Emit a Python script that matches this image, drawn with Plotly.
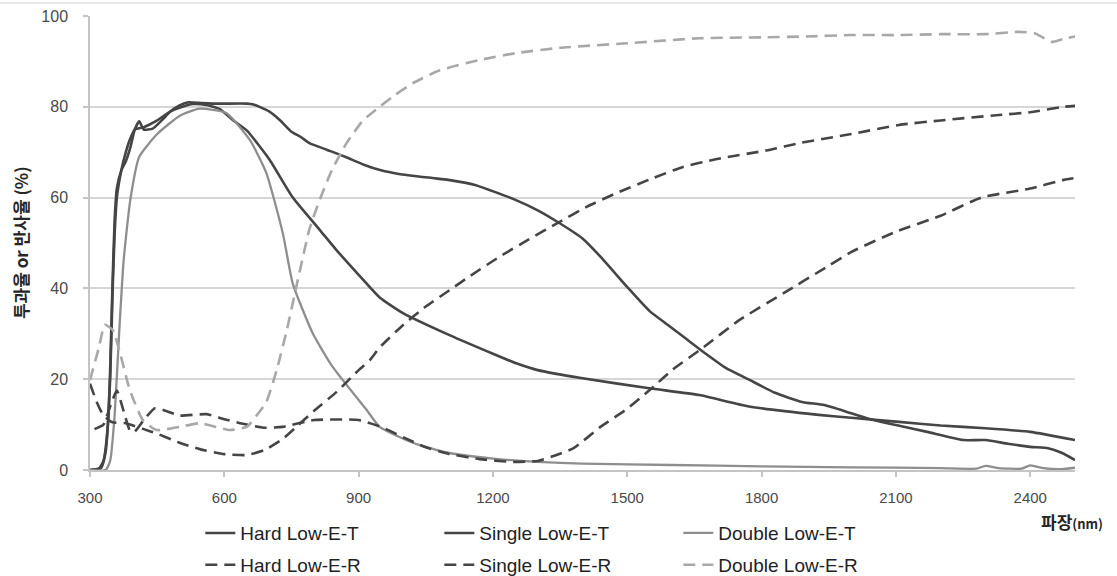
import plotly.graph_objects as go

# ---------------- data (wavelength nm, percent) ----------------
hard_t_x = [300, 320, 330, 340, 345, 350, 355, 360, 370, 380, 390, 400, 410, 420, 440, 460, 480, 500,
            520, 550, 575, 600, 650, 665, 700, 725, 750, 770, 790, 830, 870, 910, 950, 990, 1065, 1100,
            1160, 1250, 1300, 1350, 1400, 1440, 1500, 1550, 1590, 1630, 1670, 1720, 1770, 1830, 1890,
            1940, 2000, 2050, 2100, 2170, 2250, 2300, 2350, 2400, 2440, 2470, 2500]
hard_t_y = [0, 0.3, 2, 10, 22, 40, 55, 62, 66, 68, 71, 75, 76.8, 75, 75.2, 77, 79, 80.3,
            81, 80.8, 80.7, 80.7, 80.7, 80.5, 79, 77, 74.5, 73.4, 72, 70.5, 69, 67.3, 66, 65.2, 64.3, 63.9,
            62.8, 59.5, 57.2, 54.3, 51, 47, 40.3, 35, 32, 29, 26, 22.5, 20, 17, 15,
            14.3, 12.5, 11, 9.9, 8.4, 6.6, 6.6, 5.8, 5.1, 4.8, 3.8, 2.2]

single_t_x = [300, 325, 335, 345, 350, 355, 360, 370, 380, 390, 400, 420, 450, 480, 500, 530, 560, 590,
              620, 650, 700, 753, 813, 850, 900, 947, 1000, 1103, 1200, 1252, 1300, 1400, 1549, 1661,
              1772, 1922, 2000, 2107, 2200, 2300, 2400, 2500]
single_t_y = [0, 0.5, 4, 20, 38, 52, 60, 66, 70, 73, 75, 75.5, 77, 79, 79.8, 80.6, 80.4, 79.5,
              77, 74.8, 68.5, 60, 52.9, 48.5, 43, 38, 34.5, 29.7, 25.6, 23.5, 22, 20.2, 18, 16.5,
              14, 12.2, 11.5, 10.6, 9.8, 9.2, 8.4, 6.6]

double_t_x = [300, 335, 345, 355, 365, 375, 390, 410, 450, 500, 545, 605, 657, 694, 731, 753, 798, 842,
              918, 947, 1021, 1100, 1200, 1300, 1400, 1600, 1800, 2000, 2200, 2280, 2300, 2330, 2380,
              2400, 2430, 2470, 2500]
double_t_y = [0, 0, 2, 12, 30, 46, 59.5, 69, 74, 78, 79.6, 78.6, 72.7, 65.4, 52, 41, 30, 22.7,
              13.2, 9.5, 6.0, 3.8, 2.5, 1.8, 1.4, 1.1, 0.8, 0.6, 0.4, 0.3, 0.9, 0.4, 0.3,
              1.0, 0.4, 0.2, 0.5]

hard_r_x = [310, 330, 345, 360, 375, 390, 400, 420, 445, 470, 500, 560, 600, 650, 690, 730, 800, 900,
            950, 1000, 1050, 1100, 1170, 1240, 1300, 1330, 1380, 1440, 1500, 1550, 1600, 1670, 1750,
            1850, 1950, 2000, 2100, 2200, 2290, 2400, 2475, 2500]
hard_r_y = [9, 10, 14, 17.5, 13, 8.5, 8.5, 11, 13.6, 13, 12, 12.3, 11.2, 10, 9.3, 9.5, 11, 11,
            9.5, 7.2, 5, 3.6, 2.4, 1.8, 2.0, 2.9, 4.8, 9.5, 13.5, 17.6, 22, 27, 33,
            39, 45, 48, 52.5, 56, 60, 62, 63.9, 64.3]

single_r_x = [300, 315, 330, 350, 380, 420, 450, 500, 545, 600, 650, 690, 730, 761, 800, 851, 900, 925,
              947, 1000, 1050, 1103, 1150, 1215, 1280, 1348, 1410, 1476, 1550, 1623, 1700, 1817, 1884,
              2000, 2107, 2200, 2330, 2400, 2475, 2500]
single_r_y = [19, 15, 12, 10.5, 10.3, 9, 8, 6, 4.6, 3.5, 3.3, 4.4, 6.8, 9.5, 13, 17.2, 22, 24.2,
              27, 32, 36, 39.6, 42.8, 47, 50.8, 54.6, 58, 61, 64, 66.7, 68.5, 70.5, 72,
              74, 76, 77, 78.2, 78.8, 80, 80.2]

double_r_x = [300, 320, 333, 351, 367, 389, 418, 449, 500, 545, 612, 650, 672, 694, 717, 740, 760, 790,
              813, 840, 873, 910, 947, 980, 1021, 1080, 1170, 1250, 1350, 1500, 1661, 1800, 1900, 2000,
              2107, 2200, 2300, 2374, 2410, 2448, 2475, 2500]
double_r_y = [19.8, 27, 32, 30.8, 25.8, 17.6, 11, 8.8, 9.5, 10.3, 8.8, 9.5, 12, 15, 22, 31, 40, 53,
              59.5, 66, 72, 77, 80, 82.5, 85.2, 88, 90.3, 91.8, 93, 94, 95.1, 95.3, 95.5, 95.8,
              95.8, 96, 96, 96.5, 96.2, 94.3, 95, 95.5]

series_names = ["Hard Low-E-T", "Single Low-E-T", "Double Low-E-T",
                "Hard Low-E-R", "Single Low-E-R", "Double Low-E-R"]
y_ticks = [0, 20, 40, 60, 80, 100]
x_ticks = [300, 600, 900, 1200, 1500, 1800, 2100, 2400]

# ---------------- styling ----------------
DARK = "#454545"
LIGHT = "#8e8e8e"
LIGHT_R = "#a8a8a8"
SANS = "Liberation Sans, Arial, sans-serif"

specs = [
    (hard_t_x, hard_t_y, DARK, "solid", 2.6, "legend"),
    (single_t_x, single_t_y, DARK, "solid", 2.6, "legend"),
    (double_t_x, double_t_y, LIGHT, "solid", 2.3, "legend"),
    (hard_r_x, hard_r_y, DARK, "12px,7px", 2.6, "legend2"),
    (single_r_x, single_r_y, DARK, "12px,7px", 2.6, "legend2"),
    (double_r_x, double_r_y, LIGHT_R, "12px,7px", 2.6, "legend2"),
]

fig = go.Figure()
for name, (xs, ys, col, dash, w, lg) in zip(series_names, specs):
    fig.add_trace(go.Scatter(
        x=xs, y=ys, mode="lines", name=name, legend=lg,
        line=dict(color=col, width=w, dash=dash, shape="spline", smoothing=0.5),
    ))

legend_common = dict(
    orientation="h", xanchor="left", yanchor="middle",
    entrywidth=194, entrywidthmode="pixels",
    font=dict(family=SANS, size=19, color="#222222"),
    bgcolor="rgba(0,0,0,0)", itemclick=False, itemdoubleclick=False,
)

fig.update_layout(
    width=1117, height=576,
    margin=dict(l=90, r=42, t=16, b=106, autoexpand=False),
    paper_bgcolor="white", plot_bgcolor="white",
    font=dict(family=SANS, color="#404040"),
    xaxis=dict(
        range=[300, 2500], tickmode="array", tickvals=x_ticks,
        ticktext=[str(v) for v in x_ticks],
        showgrid=False, zeroline=False,
        showline=True, linecolor="#c4c4c4", linewidth=1.5,
        ticks="outside", ticklen=5, tickcolor="#c4c4c4", tickwidth=1.5,
        tickfont=dict(family=SANS, size=15, color="#4a4a4a"),
        ticklabelstandoff=8,
    ),
    yaxis=dict(
        range=[0, 100], tickmode="array", tickvals=y_ticks,
        showgrid=True, gridcolor="#d6d6d6", gridwidth=1.5,
        zeroline=False,
        showline=True, linecolor="#c4c4c4", linewidth=1.5,
        ticks="outside", ticklen=5, tickcolor="#c4c4c4", tickwidth=1.5,
        tickfont=dict(family=SANS, size=16, color="#4a4a4a"),
        ticklabelstandoff=12,
    ),
    legend=dict(x=0.112, y=-0.139, **legend_common),
    legend2=dict(x=0.112, y=-0.209, **legend_common),
    showlegend=True,
)

# y-axis title (Korean), rotated
fig.add_annotation(
    text="<b>투과율 or 반사율 (%)</b>", textangle=-90,
    xref="paper", yref="paper", x=-0.071, y=0.5, xanchor="center", yanchor="middle",
    showarrow=False, font=dict(family="Noto Sans CJK KR", size=17, color="#262626"),
)
# x-axis title
fig.add_annotation(
    text="<b>파장</b><b><span style='font-size:13px'>(nm)</span></b>",
    xref="paper", yref="paper", x=0.997, y=-0.1145, xanchor="center", yanchor="middle",
    showarrow=False, font=dict(family="Noto Sans CJK KR", size=17, color="#262626"),
)
# thin frame line at the top of the picture
fig.add_shape(type="line", xref="paper", yref="paper",
              x0=-0.1, x1=1.05, y0=1.0286, y1=1.0286,
              line=dict(color="#d0d0d0", width=1))

fig.write_html("out.html")
